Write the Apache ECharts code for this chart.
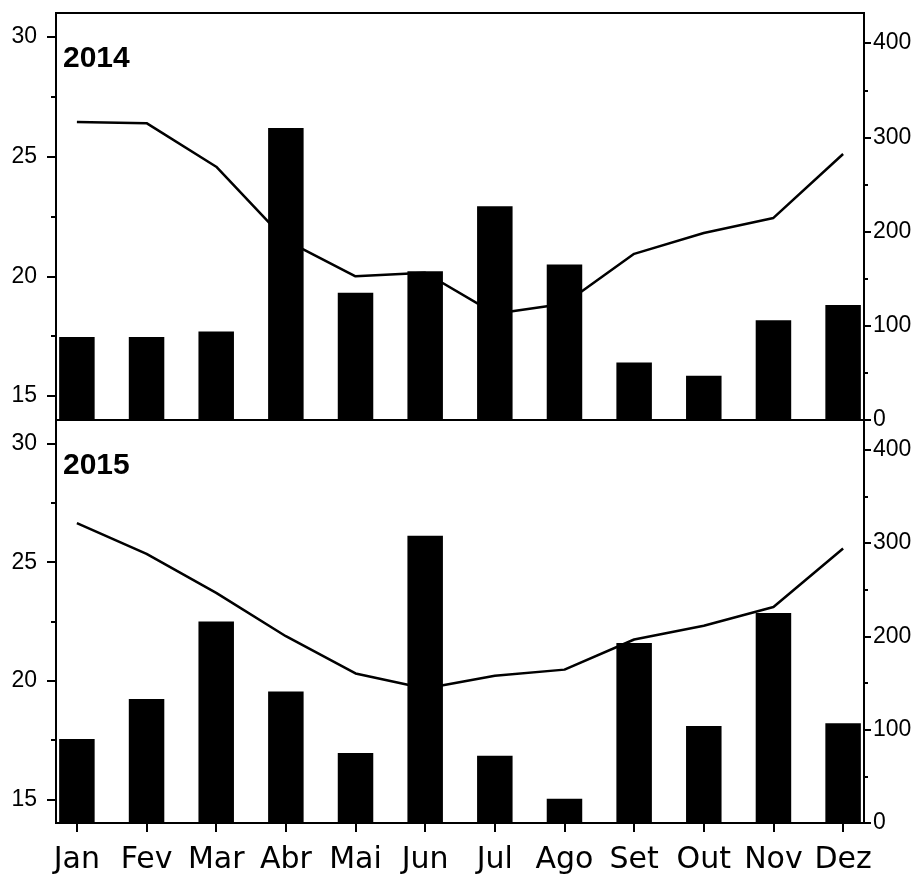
<!DOCTYPE html>
<html>
<head>
	<title>Clima 2014 2015</title>
	<meta charset="utf-8">
	<script src="https://cdn.jsdelivr.net/npm/echarts@6/dist/echarts.min.js"></script>
	<style>
		body { margin: 0; background: #fff; }
		#main { width: 924px; height: 875px; }
	</style>
</head>
<body>
<div id="main"></div>
<script>
	// meses (posição 1..12 no eixo x)
	var meses = ['Jan', 'Fev', 'Mar', 'Abr', 'Mai', 'Jun', 'Jul', 'Ago', 'Set', 'Out', 'Nov', 'Dez'];
	var posicoes = [1, 2, 3, 4, 5, 6, 7, 8, 9, 10, 11, 12];

	// 2014
	var chuva2014 = [88, 88, 94, 310, 135, 158, 227, 165, 61, 47, 106, 122];
	var temp2014 = [26.45, 26.4, 24.58, 21.5, 20.0, 20.15, 18.44, 18.86, 20.94, 21.81, 22.44, 25.11];
	// 2015
	var chuva2015 = [90, 133, 216, 141, 75, 308, 72, 26, 193, 104, 225, 107];
	var temp2015 = [26.65, 25.35, 23.71, 21.88, 20.31, 19.67, 20.21, 20.47, 21.74, 22.32, 23.11, 25.58];

	// ticks dos eixos
	var tempTicks = [15, 20, 25, 30];
	var tempMinor = [17.5, 22.5, 27.5];
	var chuvaTicks = [0, 100, 200, 300, 400];
	var chuvaMinor = [50, 150, 250, 350];
	var anos = ['2014', '2015'];

	function pares(valores) {
		return posicoes.map(function(p, i) { return [p, valores[i]]; });
	}

	var grids = [
		{left: 56, right: 60, top: 13, height: 407},
		{left: 56, right: 60, top: 420, height: 405}
	];

	var xAxes = [];
	var yAxes = [];
	var series = [];
	var titles = [];

	grids.forEach(function(g, k) {
		g.show = true;
		g.borderColor = '#000';
		g.borderWidth = 2;
		g.backgroundColor = 'transparent';

		var embaixo = k === 1;
		xAxes.push({
			type: 'value', gridIndex: k, min: 0.7, max: 12.3,
			splitLine: {show: false},
			axisLine: {show: true, lineStyle: {color: '#000', width: 2}},
			axisTick: {show: embaixo, customValues: posicoes, length: 9, lineStyle: {color: '#000', width: 2}},
			axisLabel: {
				show: embaixo, customValues: posicoes, margin: 22,
				fontFamily: 'DejaVu Sans', fontSize: 30, color: '#000',
				formatter: function(v) { return meses[Math.round(v) - 1]; }
			}
		});

		var base = {
			type: 'value', gridIndex: k, splitLine: {show: false},
			axisLine: {show: true, onZero: false, lineStyle: {color: '#000', width: 2}}
		};
		// esquerda: temperatura
		yAxes.push(Object.assign({}, base, {
			position: 'left', min: 14, max: 31,
			axisTick: {show: true, customValues: tempTicks, length: 9, lineStyle: {color: '#000', width: 2}},
			axisLabel: {customValues: tempTicks, margin: 19, fontFamily: 'Liberation Sans', fontSize: 23, color: '#000'}
		}));
		yAxes.push(Object.assign({}, base, {
			position: 'left', min: 14, max: 31,
			axisTick: {show: true, customValues: tempMinor, length: 5, lineStyle: {color: '#000', width: 2}},
			axisLabel: {show: false, customValues: tempMinor}
		}));
		// direita: precipitação
		yAxes.push(Object.assign({}, base, {
			position: 'right', min: 0, max: 432,
			axisTick: {show: true, customValues: chuvaTicks, length: 7, lineStyle: {color: '#000', width: 2}},
			axisLabel: {customValues: chuvaTicks, margin: 9, fontFamily: 'Liberation Sans', fontSize: 23, color: '#000'}
		}));
		yAxes.push(Object.assign({}, base, {
			position: 'right', min: 0, max: 432,
			axisTick: {show: true, customValues: chuvaMinor, length: 4, lineStyle: {color: '#000', width: 2}},
			axisLabel: {show: false, customValues: chuvaMinor}
		}));

		var chuva = k === 0 ? chuva2014 : chuva2015;
		var temp = k === 0 ? temp2014 : temp2015;

		series.push({
			type: 'line', xAxisIndex: k, yAxisIndex: k * 4, z: 2,
			data: pares(temp), symbol: 'none', silent: true,
			lineStyle: {color: '#000', width: 2.5}
		});
		series.push({
			type: 'bar', xAxisIndex: k, yAxisIndex: k * 4 + 2, z: 3,
			data: pares(chuva), barWidth: 35.5, silent: true,
			itemStyle: {color: '#000'}
		});

		titles.push({
			text: anos[k], left: 63, top: g.top + 31, padding: 0,
			textStyle: {fontFamily: 'Liberation Sans', fontSize: 30, fontWeight: 'bold', color: '#000'}
		});
	});

	var myChart = echarts.init(document.getElementById('main'), null, {renderer: 'canvas'});
	myChart.setOption({
		animation: false,
		backgroundColor: '#fff',
		title: titles,
		grid: grids,
		xAxis: xAxes,
		yAxis: yAxes,
		series: series
	});
</script>
</body>
</html>
